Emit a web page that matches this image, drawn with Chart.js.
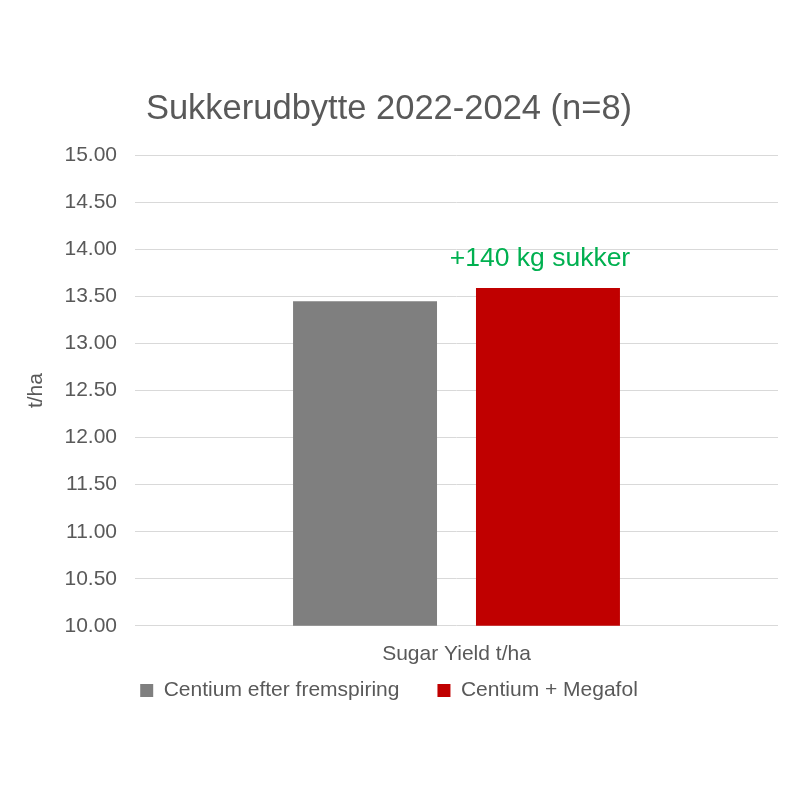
<!DOCTYPE html>
<html>
<head>
<meta charset="utf-8">
<script src="https://cdn.jsdelivr.net/npm/chart.js@4.4.1/dist/chart.umd.min.js"></script>
<style>
  html, body { margin: 0; padding: 0; background: #ffffff; }
  #wrap { width: 800px; height: 800px; }
</style>
</head>
<body>
<div id="wrap"><canvas id="c" width="800" height="800"></canvas></div>
<script>
const categories = ['Sugar Yield t/ha'];
const seriesNames = ['Centium efter fremspiring', 'Centium + Megafol'];
const seriesGray = [13.45];
const seriesRed = [13.59];
const titleText = 'Sukkerudbytte 2022-2024 (n=8)';
const yAxisTitle = 't/ha';
const annotationText = '+140 kg sukker';
const yMin = 10, yMax = 15, yStep = 0.5;

const FONT = "'Liberation Sans', Arial, sans-serif";
const TEXT = '#595959';

const annotationPlugin = {
  id: 'barNote',
  afterDatasetsDraw(chart) {
    const meta = chart.getDatasetMeta(1);
    const bar = meta.data[0];
    if (!bar) return;
    const ctx = chart.ctx;
    ctx.save();
    ctx.font = '26.5px ' + FONT;
    ctx.fillStyle = '#00b050';
    ctx.textAlign = 'center';
    ctx.textBaseline = 'middle';
    ctx.fillText(annotationText, bar.x - 8, bar.y - 29);
    ctx.restore();
  }
};

const legendShift = {
  id: 'legendShift',
  afterLayout(chart) {
    if (chart.legend) {
      chart.legend.top -= 41;
      chart.legend.bottom -= 41;
    }
  }
};

new Chart(document.getElementById('c'), {
  type: 'bar',
  data: {
    labels: categories,
    datasets: [
      { label: seriesNames[0], data: seriesGray, backgroundColor: '#7f7f7f',
        categoryPercentage: 0.569, barPercentage: 0.787 },
      { label: seriesNames[1], data: seriesRed, backgroundColor: '#c00000',
        categoryPercentage: 0.569, barPercentage: 0.787 }
    ]
  },
  options: {
    responsive: false,
    animation: false,
    devicePixelRatio: 1,
    layout: { padding: { left: 0, right: 22, top: 0, bottom: 48 } },
    plugins: {
      title: {
        display: true, text: titleText, color: TEXT,
        font: { family: FONT, size: 34.5, weight: 'normal' },
        padding: { top: 89, bottom: 25 }
      },
      legend: {
        display: true, position: 'bottom',
        labels: {
          color: TEXT, font: { family: FONT, size: 21 },
          boxWidth: 13, boxHeight: 13, padding: 38
        }
      },
      tooltip: { enabled: false }
    },
    scales: {
      x: {
        grid: { display: false, drawTicks: false },
        border: { display: false },
        ticks: { color: TEXT, font: { family: FONT, size: 21 }, padding: 16 }
      },
      y: {
        min: yMin, max: yMax,
        afterFit(scale) { scale.width = 135; },
        grid: { color: '#d9d9d9', lineWidth: 1, drawTicks: false },
        border: { display: false },
        ticks: {
          stepSize: yStep, color: TEXT, font: { family: FONT, size: 21 }, padding: 18,
          callback: v => Number(v).toFixed(2)
        },
        title: {
          display: true, text: yAxisTitle, color: TEXT,
          font: { family: FONT, size: 21 }, padding: { top: 24, bottom: 0 }
        }
      }
    }
  },
  plugins: [annotationPlugin, legendShift]
});
</script>
</body>
</html>
